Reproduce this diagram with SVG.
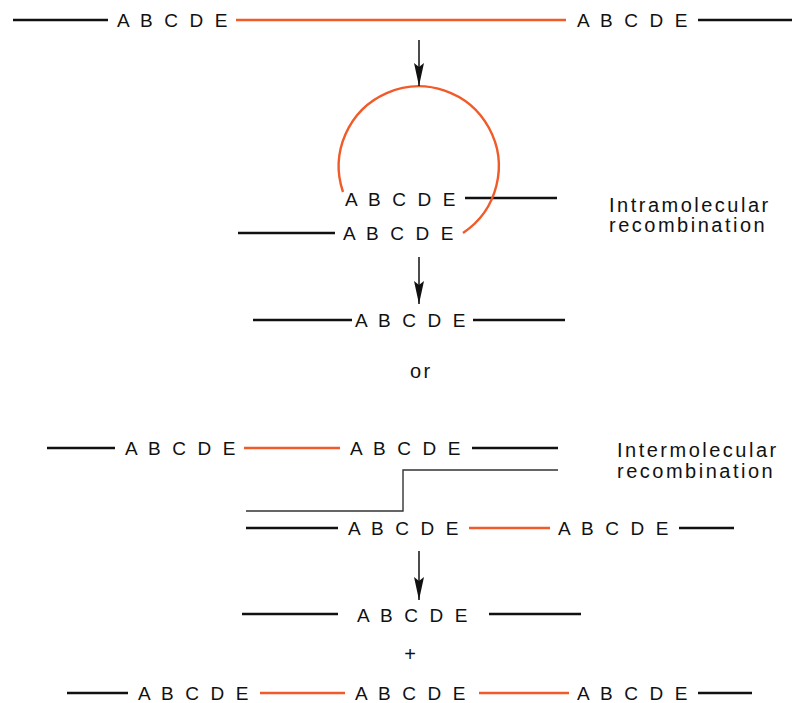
<svg xmlns="http://www.w3.org/2000/svg" width="793" height="703" viewBox="0 0 793 703">
<defs>
<style>
.bk{stroke:#111;stroke-width:2.4;fill:none}
.or{stroke:#f15a29;stroke-width:2.4;fill:none}
.thin{stroke:#333;stroke-width:1.4;fill:none}
.seq{font-family:"Liberation Sans",Arial,sans-serif;font-size:19px;letter-spacing:3.1px;fill:#111}
.lbl{font-family:"Liberation Sans",Arial,sans-serif;font-size:20px;letter-spacing:2.5px;fill:#111}
.arr{stroke:#111;stroke-width:1.5;fill:none;marker-end:url(#ah)}
</style>
<marker id="ah" markerUnits="userSpaceOnUse" viewBox="-24 -6 25 12" refX="0" refY="0" markerWidth="25" markerHeight="12" orient="auto">
<path d="M0,0 L-23,-5 L-19,0 L-23,5 Z" fill="#111"/>
</marker>
</defs>
<rect width="793" height="703" fill="#fff"/>

<g id="row1">
<line class="bk" x1="13" y1="20" x2="108" y2="20"/>
<text class="seq" x="117" y="27">A B C D E</text>
<line class="or" x1="236" y1="20" x2="566" y2="20"/>
<text class="seq" x="577" y="27">A B C D E</text>
<line class="bk" x1="698" y1="20" x2="792" y2="20"/>
</g>

<g id="loop">
<line class="bk" x1="465" y1="198" x2="557" y2="198"/>
<text class="seq" x="345" y="206">A B C D E</text>
<line class="bk" x1="238" y1="233" x2="335" y2="233"/>
<text class="seq" x="343" y="240">A B C D E</text>
<path class="or" d="M343,192 A80,80 0 1 1 463,233"/>
</g>

<g id="label-intra">
<text class="lbl" x="609" y="212">Intramolecular</text>
<text class="lbl" x="609" y="232">recombination</text>
</g>

<g id="row3">
<line class="bk" x1="253" y1="320" x2="352" y2="320"/>
<text class="seq" x="355" y="327">A B C D E</text>
<line class="bk" x1="473" y1="320" x2="565" y2="320"/>
</g>

<g id="or-text">
<text class="lbl" x="410" y="378">or</text>
</g>

<g id="row4">
<line class="bk" x1="47" y1="448" x2="115" y2="448"/>
<text class="seq" x="125" y="455">A B C D E</text>
<line class="or" x1="244" y1="448" x2="340" y2="448"/>
<text class="seq" x="350" y="455">A B C D E</text>
<line class="bk" x1="472" y1="448" x2="558" y2="448"/>
</g>

<g id="crossover">
<path class="thin" d="M246,511 H403 V470 H558"/>
</g>

<g id="label-inter">
<text class="lbl" x="617" y="457">Intermolecular</text>
<text class="lbl" x="617" y="478">recombination</text>
</g>

<g id="row5">
<line class="bk" x1="246" y1="528" x2="338" y2="528"/>
<text class="seq" x="348" y="535">A B C D E</text>
<line class="or" x1="469" y1="528" x2="550" y2="528"/>
<text class="seq" x="558" y="535">A B C D E</text>
<line class="bk" x1="679" y1="528" x2="734" y2="528"/>
</g>

<g id="row6">
<line class="bk" x1="242" y1="614" x2="338" y2="614"/>
<text class="seq" x="357" y="622">A B C D E</text>
<line class="bk" x1="489" y1="614" x2="581" y2="614"/>
</g>

<g id="plus">
<text class="lbl" x="410" y="661" text-anchor="middle" style="letter-spacing:0">+</text>
</g>

<g id="row7">
<line class="bk" x1="67" y1="693" x2="128" y2="693"/>
<text class="seq" x="138" y="700">A B C D E</text>
<line class="or" x1="260" y1="693" x2="345" y2="693"/>
<text class="seq" x="355" y="700">A B C D E</text>
<line class="or" x1="479" y1="693" x2="569" y2="693"/>
<text class="seq" x="577" y="700">A B C D E</text>
<line class="bk" x1="698" y1="693" x2="752" y2="693"/>
</g>

<g id="connectors">
<path class="arr" d="M419,40 V86"/>
<path class="arr" d="M419,257 V304"/>
<path class="arr" d="M419,551 V600"/>
</g>
</svg>
